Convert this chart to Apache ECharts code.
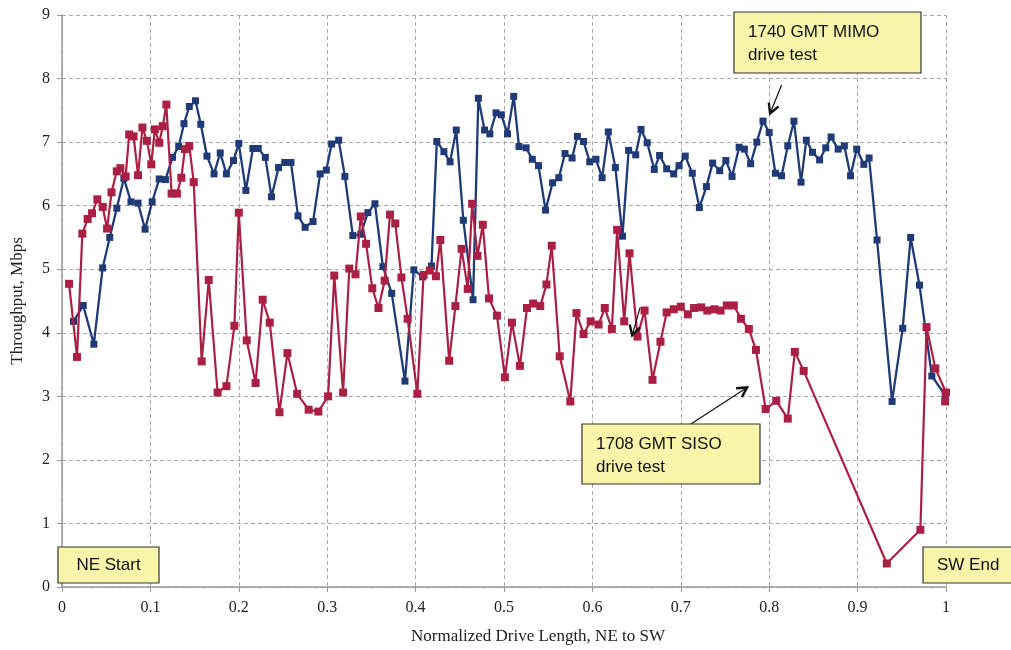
<!DOCTYPE html>
<html><head><meta charset="utf-8">
<script src="https://cdn.jsdelivr.net/npm/echarts@6/dist/echarts.min.js"></script>
<style>html,body{margin:0;padding:0;background:#fff}#c{width:1011px;height:650px}</style>
</head><body><div id="c"></div>
<script>
// MIMO (1740 GMT) drive test: [normalized length, Mbps]
const mimoX = [0.013,0.024,0.036,0.046,0.054,0.062,0.070,0.078,0.086,0.094,0.102,0.110,0.117,0.125,0.132,0.138,0.144,0.151,0.157,0.164,0.172,0.179,0.186,0.194,0.200,0.208,0.216,0.222,0.230,0.237,0.245,0.252,0.259,0.267,0.275,0.284,0.292,0.299,0.305,0.313,0.320,0.329,0.338,0.346,0.354,0.363,0.373,0.388,0.398,0.408,0.418,0.424,0.432,0.439,0.446,0.454,0.465,0.471,0.478,0.484,0.491,0.497,0.504,0.511,0.517,0.525,0.532,0.539,0.547,0.555,0.562,0.569,0.577,0.583,0.590,0.597,0.604,0.611,0.618,0.626,0.634,0.641,0.649,0.655,0.662,0.670,0.676,0.684,0.692,0.698,0.705,0.713,0.721,0.729,0.736,0.744,0.751,0.758,0.766,0.772,0.779,0.786,0.793,0.800,0.807,0.814,0.821,0.828,0.836,0.842,0.849,0.857,0.864,0.870,0.878,0.885,0.892,0.899,0.907,0.913,0.922,0.939,0.951,0.960,0.970,0.984,0.999];
const mimoY = [4.18,4.43,3.82,5.02,5.50,5.96,6.43,6.06,6.04,5.63,6.06,6.42,6.41,6.76,6.93,7.29,7.56,7.65,7.28,6.78,6.50,6.83,6.50,6.71,6.98,6.24,6.90,6.90,6.76,6.14,6.60,6.68,6.68,5.84,5.66,5.75,6.50,6.56,6.97,7.03,6.46,5.53,5.55,5.89,6.03,5.04,4.62,3.24,4.99,4.88,5.05,7.01,6.85,6.69,7.19,5.77,4.52,7.69,7.19,7.13,7.46,7.43,7.13,7.72,6.93,6.91,6.73,6.63,5.93,6.36,6.44,6.82,6.75,7.09,7.01,6.69,6.73,6.44,7.16,6.60,5.52,6.87,6.80,7.20,6.99,6.57,6.79,6.58,6.50,6.63,6.78,6.51,5.97,6.30,6.67,6.55,6.71,6.46,6.92,6.89,6.66,7.00,7.33,7.15,6.51,6.47,6.94,7.33,6.37,7.03,6.84,6.72,6.91,7.08,6.89,6.94,6.47,6.89,6.65,6.75,5.46,2.92,4.07,5.50,4.75,3.32,3.02];
// SISO (1708 GMT) drive test
const sisoX = [0.008,0.017,0.023,0.029,0.034,0.040,0.046,0.051,0.056,0.062,0.066,0.072,0.076,0.081,0.086,0.091,0.096,0.101,0.105,0.110,0.114,0.118,0.124,0.130,0.135,0.139,0.144,0.149,0.158,0.166,0.176,0.186,0.195,0.200,0.209,0.219,0.227,0.235,0.246,0.255,0.266,0.279,0.290,0.301,0.308,0.318,0.325,0.332,0.338,0.344,0.351,0.358,0.365,0.371,0.377,0.384,0.391,0.402,0.409,0.416,0.423,0.428,0.438,0.445,0.452,0.459,0.464,0.470,0.476,0.483,0.492,0.501,0.509,0.518,0.526,0.533,0.541,0.548,0.554,0.563,0.575,0.582,0.590,0.598,0.607,0.614,0.622,0.628,0.636,0.642,0.651,0.659,0.668,0.677,0.684,0.692,0.700,0.708,0.715,0.723,0.730,0.738,0.745,0.752,0.760,0.768,0.777,0.785,0.796,0.808,0.821,0.829,0.839,0.933,0.971,0.978,0.988,1.000,0.999];
const sisoY = [4.77,3.62,5.56,5.79,5.88,6.10,5.98,5.64,6.21,6.54,6.59,6.46,7.12,7.09,6.48,7.23,7.02,6.65,7.20,6.99,7.25,7.59,6.19,6.19,6.44,6.89,6.94,6.37,3.55,4.83,3.06,3.16,4.11,5.89,3.88,3.21,4.52,4.16,2.75,3.68,3.04,2.79,2.76,3.00,4.90,3.06,5.01,4.92,5.83,5.40,4.70,4.39,4.82,5.86,5.72,4.87,4.22,3.04,4.91,4.98,4.89,5.46,3.56,4.42,5.32,4.69,6.03,5.21,5.70,4.54,4.27,3.30,4.16,3.48,4.39,4.46,4.42,4.76,5.37,3.63,2.92,4.31,3.98,4.18,4.13,4.39,4.06,5.62,4.18,5.25,3.94,4.35,3.26,3.86,4.32,4.37,4.41,4.29,4.39,4.40,4.35,4.37,4.35,4.43,4.43,4.22,4.06,3.73,2.80,2.93,2.65,3.70,3.40,0.37,0.90,4.09,3.44,3.06,2.92];
const xTicks = ['0','0.1','0.2','0.3','0.4','0.5','0.6','0.7','0.8','0.9','1'];
const yTicks = ['0','1','2','3','4','5','6','7','8','9'];

const blue = '#1f3a76', red = '#ab1f44', boxFill = '#f8f4aa';
const chart = echarts.init(document.getElementById('c'));
const serif = '"Liberation Serif", "DejaVu Serif", serif';
const sans = '"Liberation Sans", Arial, sans-serif';
const zip = (a,b) => a.map((v,i)=>[v,b[i]]);

chart.setOption({
  animation:false,
  grid:{left:62, top:15, right:65, bottom:63},
  xAxis:{type:'value', min:0, max:1, interval:0.1,
    axisLine:{lineStyle:{color:'#9a9a9a', width:1.5}},
    axisTick:{show:true, length:5, lineStyle:{color:'#9a9a9a'}},
    axisLabel:{fontFamily:serif, fontSize:16, color:'#222', margin:13,
      formatter:(v)=>{const i=Math.round(v*10); return xTicks[i];}},
    splitLine:{show:true, lineStyle:{color:'#a8a8a8', type:[4,3], width:1}}
  },
  yAxis:{type:'value', min:0, max:9, interval:1,
    name:'Throughput, Mbps', nameLocation:'middle', nameGap:36,
    nameTextStyle:{fontFamily:serif, fontSize:17, color:'#222'},
    axisLine:{show:true, lineStyle:{color:'#9a9a9a', width:1.5}},
    axisTick:{show:true, length:5, lineStyle:{color:'#9a9a9a'}},
    axisLabel:{fontFamily:serif, fontSize:16, color:'#222', margin:12,
      formatter:(v)=>yTicks[Math.round(v)]},
    splitLine:{show:true, lineStyle:{color:'#a8a8a8', type:[4,3], width:1}}
  },
  series:[
    {name:'1740 GMT MIMO', type:'line', data:zip(mimoX,mimoY), symbol:'rect', symbolSize:7,
      lineStyle:{color:blue, width:2.3}, itemStyle:{color:blue}, z:3},
    {name:'1708 GMT SISO', type:'line', data:zip(sisoX,sisoY), symbol:'rect', symbolSize:8,
      lineStyle:{color:red, width:2.2}, itemStyle:{color:red}, z:4}
  ]
});

// annotations: arrow tails and tips in data coordinates
const arrows = [
  {from:[0.814,7.90], to:[0.801,7.45]},
  {from:[0.711,2.56], to:[0.775,3.14]},
  {from:[0.654,4.40], to:[0.645,3.96]}
];
const els = [];
arrows.forEach(a=>{
  const p1 = chart.convertToPixel({gridIndex:0}, a.from);
  const p2 = chart.convertToPixel({gridIndex:0}, a.to);
  const ang = Math.atan2(p2[1]-p1[1], p2[0]-p1[0]);
  const L = 11, w = 0.5;
  const h1 = [p2[0]-L*Math.cos(ang-w), p2[1]-L*Math.sin(ang-w)];
  const h2 = [p2[0]-L*Math.cos(ang+w), p2[1]-L*Math.sin(ang+w)];
  els.push({type:'line', shape:{x1:p1[0],y1:p1[1],x2:p2[0],y2:p2[1]}, style:{stroke:'#111', lineWidth:1.2}, z:10});
  els.push({type:'polyline', shape:{points:[h1,p2,h2]}, style:{stroke:'#111', lineWidth:2.4, fill:null}, z:10});
});
function box(x,y,w,h,lines,align){
  els.push({type:'rect', shape:{x:x,y:y,width:w,height:h}, style:{fill:boxFill, stroke:'#333', lineWidth:1.2}, z:20});
  lines.forEach((t,i)=>{
    els.push({type:'text', z:21, style:{text:t, x: align==='center'? x+w/2 : x+14, y: y + (lines.length===1 ? h/2 : 20 + i*23),
      textAlign: align==='center'?'center':'left', textVerticalAlign:'middle', fontFamily:sans, fontSize:17, fill:'#111'}});
  });
}
box(734,12,187,61,['1740 GMT MIMO','drive test'],'left');
box(582,424,178,60,['1708 GMT SISO','drive test'],'left');
box(58,547,101,36,['NE Start'],'center');
box(923,547,100,36,['SW End'],'left');
els.push({type:'text', z:5, style:{text:'Normalized Drive Length, NE to SW', x:538, y:637, textAlign:'center', textVerticalAlign:'middle', fontFamily:serif, fontSize:17, fill:'#222'}});
chart.setOption({graphic:els});
</script></body></html>
